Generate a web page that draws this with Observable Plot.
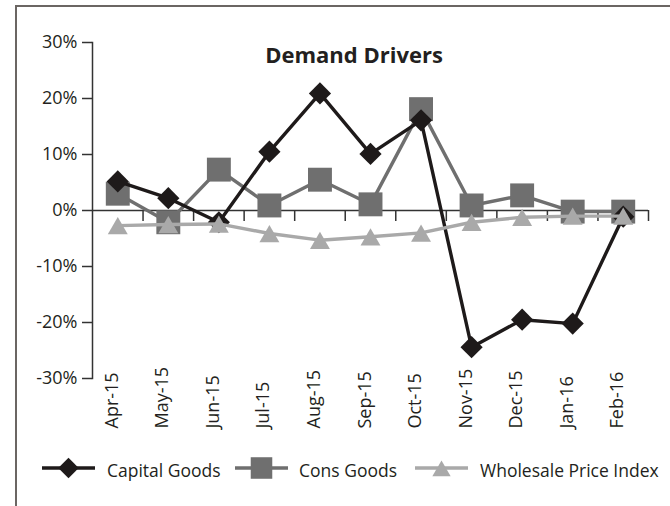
<!DOCTYPE html>
<html><head><meta charset="utf-8">
<script src="https://cdn.jsdelivr.net/npm/d3@7"></script>
<script src="https://cdn.jsdelivr.net/npm/@observablehq/plot@0.6"></script>
<style>
html,body{margin:0;padding:0;background:#fff;overflow:hidden}
#wrap{position:relative;width:670px;height:506px;font-family:"Open Sans",sans-serif;color:#231f20}
#border{position:absolute;left:15px;top:5px;width:700px;height:600px;border:2px solid #6b6663;box-sizing:border-box}
#chart{position:absolute;left:0;top:0}
#title{position:absolute;left:0;top:43px;width:708px;text-align:center;font-weight:700;font-size:22px;line-height:22px}
#legend{position:absolute;left:0;top:448px}
</style></head>
<body>
<div id="wrap">
  <div id="border"></div>
  <div id="chart"></div>
  <div id="title">Demand Drivers</div>
  <svg id="legend" width="670" height="40"></svg>
</div>
<script>
const months = ["Apr-15","May-15","Jun-15","Jul-15","Aug-15","Sep-15","Oct-15","Nov-15","Dec-15","Jan-16","Feb-16"];
const capitalGoods = [5.2, 2.2, -2.1, 10.5, 20.9, 10.1, 16.1, -24.4, -19.5, -20.2, -1.1];
const consGoods = [3.0, -2.1, 7.3, 0.9, 5.5, 1.1, 18.1, 0.9, 2.7, -0.2, -0.2];
const wholesalePriceIndex = [-2.7, -2.5, -2.4, -4.1, -5.3, -4.7, -4.0, -2.1, -1.2, -1.0, -1.0];
const yTicks = [-30, -20, -10, 0, 10, 20, 30];
const seriesNames = ["Capital Goods", "Cons Goods", "Wholesale Price Index"];

const colors = {"Capital Goods": "#1e1a1a", "Cons Goods": "#6f6f6f", "Wholesale Price Index": "#a9a9a9"};
const symbols = {"Capital Goods": "diamond2", "Cons Goods": "square", "Wholesale Price Index": "triangle"};
const radii = {"Capital Goods": 10, "Cons Goods": 13.5, "Wholesale Price Index": 7.4};
const symOffset = {"Capital Goods": 0, "Cons Goods": 0, "Wholesale Price Index": 3};

const toRows = (vals) => vals.map((v, i) => ({i, month: months[i], value: v}));
const data = {
  "Capital Goods": toRows(capitalGoods),
  "Cons Goods": toRows(consGoods),
  "Wholesale Price Index": toRows(wholesalePriceIndex)
};
const boundaries = months.map((m, i) => i + 0.5);
const drawOrder = ["Cons Goods", "Capital Goods", "Wholesale Price Index"];

const seriesMarks = drawOrder.flatMap(name => [
  Plot.line(data[name], {x: "i", y: "value", stroke: colors[name], strokeWidth: 3.4}),
  Plot.dot(data[name], {x: "i", y: "value", symbol: symbols[name], r: radii[name], fill: colors[name], dy: symOffset[name]})
]);

const chart = Plot.plot({
  width: 670,
  height: 506,
  marginLeft: 92,
  marginRight: 22,
  marginTop: 42,
  marginBottom: 128,
  style: {fontFamily: '"Open Sans", sans-serif', background: "transparent", color: "#231f20"},
  x: {type: "linear", domain: [-0.5, months.length - 0.5], axis: null},
  y: {domain: [-30, 30], axis: null},
  marks: [
    Plot.frame({anchor: "left", stroke: "#333", strokeWidth: 1.5}),
    Plot.axisY({ticks: yTicks, tickFormat: d => d + "%", label: null, tickSize: 10, tickPadding: 5, fontSize: 18, stroke: "#333", strokeWidth: 1.5, fill: "#231f20"}),
    Plot.ruleY([0], {stroke: "#333", strokeWidth: 1.5}),
    Plot.ruleX(boundaries, {x: d => d, y1: 0, y2: 0, insetBottom: -11, stroke: "#333", strokeWidth: 1.5}),
    Plot.text(months, {x: (d, i) => i, text: d => d, frameAnchor: "bottom", rotate: -90, textAnchor: "start", dy: 50, fontSize: 18, fill: "#231f20"}),
    ...seriesMarks
  ]
});
document.getElementById("chart").appendChild(chart);

// legend
const leg = d3.select("#legend");
const legendPos = [
  {name: "Capital Goods", x0: 42, x1: 95, tx: 107},
  {name: "Cons Goods", x0: 235, x1: 288, tx: 299},
  {name: "Wholesale Price Index", x0: 415, x1: 468, tx: 480}
];
const ly = 20;
legendPos.forEach(p => {
  const name = seriesNames[seriesNames.indexOf(p.name)];
  leg.append("line").attr("x1", p.x0).attr("x2", p.x1).attr("y1", ly).attr("y2", ly)
    .attr("stroke", colors[name]).attr("stroke-width", 3.5);
  const symType = {diamond2: d3.symbolDiamond2, square: d3.symbolSquare, triangle: d3.symbolTriangle}[symbols[name]];
  const r = radii[name] * (name === "Cons Goods" ? 0.9 : 0.92);
  leg.append("path").attr("d", d3.symbol(symType, Math.PI * r * r)())
    .attr("transform", `translate(${(p.x0 + p.x1) / 2},${ly + symOffset[name]})`)
    .attr("fill", colors[name]);
  leg.append("text").attr("x", p.tx).attr("y", ly + 9).text(name)
    .attr("font-size", 17.5).attr("fill", "#231f20").attr("font-family", '"Open Sans", sans-serif');
});
</script>
</body></html>
